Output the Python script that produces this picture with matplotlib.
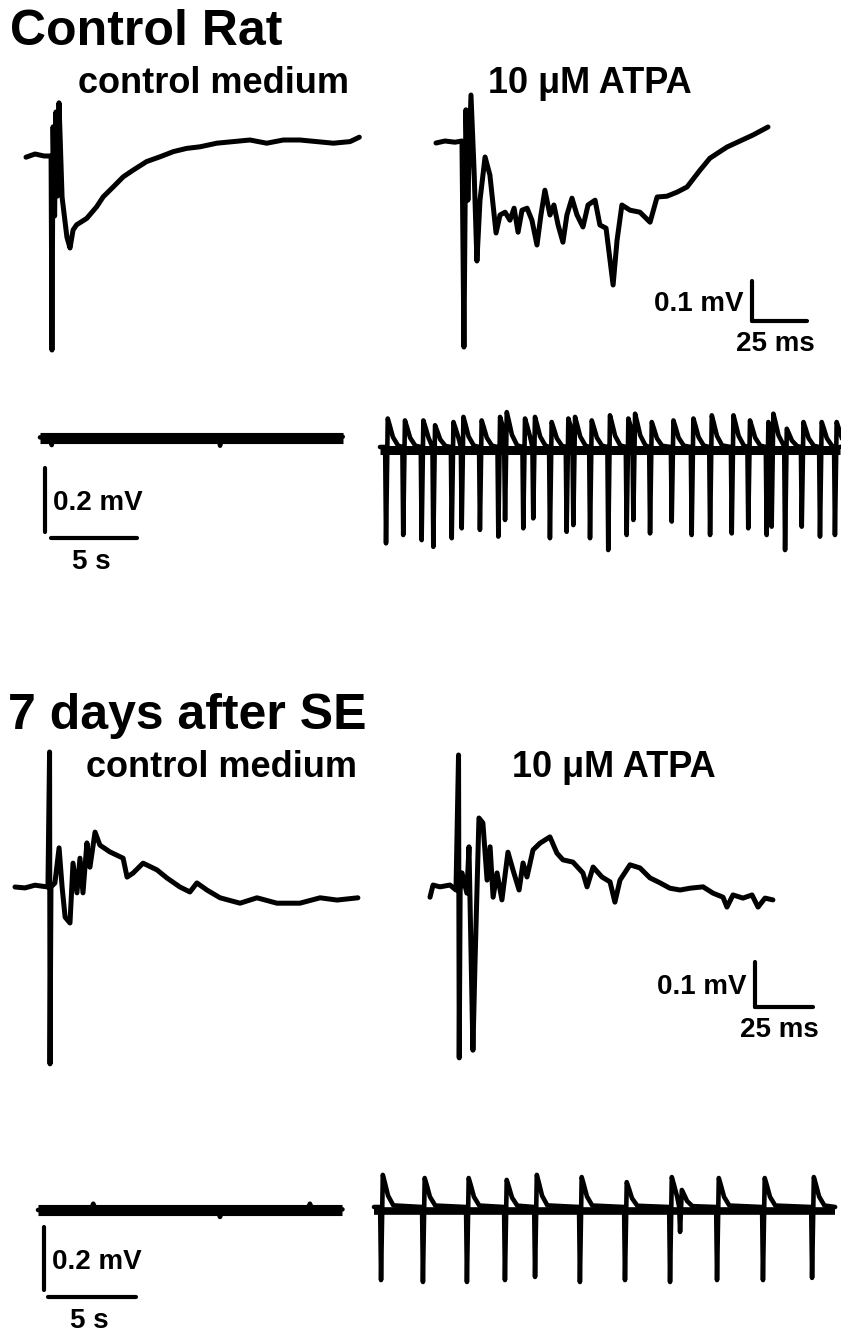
import numpy as np
import matplotlib.pyplot as plt

W, H = 841, 1332

# --- evoked field potentials, time in ms, voltage in mV ---
ctl_med_t = [0, 4.1, 8.2, 11.4, 11.8, 12.3, 13.0, 13.6, 14.3, 15.0, 16.4, 18.6, 20.0, 21.4,
             23.0, 27.6, 32.1, 35.1, 39.7, 44.2, 48.8, 54.8, 60.9, 67.0, 73.0, 79.1, 86.7,
             94.2, 101.8, 109.4, 117.0, 124.5, 132.1, 139.7, 147.3, 151.5]
ctl_med_v = [-0.003, 0.005, 0, 0, -0.485, 0.073, -0.15, 0.11, -0.1, 0.133, -0.103, -0.203,
             -0.23, -0.185, -0.172, -0.156, -0.127, -0.102, -0.077, -0.052, -0.035, -0.014,
             -0.002, 0.011, 0.019, 0.023, 0.032, 0.036, 0.04, 0.032, 0.04, 0.04, 0.036,
             0.032, 0.036, 0.047]

ctl_atpa_t = [0, 4.1, 8.6, 11.8, 12.7, 13.6, 14.5, 15.9, 17.3, 18.6, 20.0, 22.3, 24.5, 27.3,
              29.1, 31.4, 33.6, 35.5, 37.3, 39.1, 41.4, 43.6, 45.9, 47.7, 49.5, 51.8, 53.6,
              55.5, 57.7, 59.5, 61.8, 64.1, 66.8, 69.1, 72.3, 74.5, 77.3, 80.5, 82.3, 84.5,
              88.2, 92.7, 97.3, 100.5, 105.0, 109.5, 114.1, 120.0, 124.5, 132.3, 138.2,
              144.1, 150.9]
ctl_atpa_v = [-0.005, 0, -0.003, 0, -0.515, 0.078, -0.148, 0.115, -0.073, -0.30, -0.148,
              -0.04, -0.085, -0.23, -0.185, -0.178, -0.198, -0.168, -0.228, -0.173, -0.168,
              -0.198, -0.26, -0.185, -0.123, -0.185, -0.16, -0.21, -0.253, -0.185, -0.143,
              -0.185, -0.215, -0.16, -0.148, -0.21, -0.218, -0.36, -0.248, -0.16, -0.173,
              -0.178, -0.203, -0.14, -0.138, -0.128, -0.115, -0.073, -0.043, -0.015, 0,
              0.015, 0.035]

se_med_t = [0, 4.3, 8.6, 14.2, 14.9, 15.1, 15.5, 17.2, 19.0, 20.3, 21.6, 23.7, 25.0, 26.7,
            28.0, 29.3, 31.0, 32.3, 34.5, 36.6, 40.9, 46.6, 48.3, 50.9, 55.2, 61.2, 65.5,
            71.1, 75.4, 78.4, 82.8, 88.4, 97.0, 104.3, 112.9, 122.8, 131.5, 138.8, 147.8]
se_med_v = [0, -0.002, 0.004, 0, 0.30, -0.393, 0.0, 0.009, 0.087, 0, -0.067, -0.08, 0.053,
            -0.013, 0.064, -0.013, 0.098, 0.044, 0.122, 0.093, 0.078, 0.064, 0.022, 0.031,
            0.053, 0.038, 0.02, 0, -0.011, 0.009, -0.007, -0.024, -0.036, -0.024, -0.036,
            -0.036, -0.024, -0.029, -0.024]

se_atpa_t = [0, 1.3, 4.3, 8.6, 11.2, 12.3, 12.6, 13.0, 13.8, 15.9, 16.8, 18.5, 19.4, 21.1,
             22.8, 24.6, 25.9, 27.2, 28.9, 31.0, 33.6, 35.8, 38.4, 40.1, 41.8, 44.4, 47.4,
             51.7, 54.7, 57.3, 61.6, 65.9, 67.7, 70.3, 74.1, 77.6, 79.7, 81.9, 86.2, 90.5,
             94.8, 99.1, 103.4, 107.8, 112.1, 117.7, 122.0, 126.3, 128.0, 130.6, 134.9,
             138.8, 141.4, 144.4, 147.8]
se_atpa_v = [-0.016, 0.011, 0.007, 0.011, 0, 0.30, -0.373, 0.0, 0.038, -0.007, 0.096, -0.356,
             -0.162, 0.16, 0.149, 0.022, 0.096, -0.016, 0.038, -0.022, 0.084, 0.044, 0, 0.06,
             0.029, 0.089, 0.104, 0.118, 0.082, 0.067, 0.062, 0.038, 0.007, 0.051, 0.029,
             0.018, -0.027, 0.022, 0.056, 0.049, 0.027, 0.016, 0.004, 0, 0.004, 0.007, -0.007,
             -0.016, -0.038, -0.011, -0.018, -0.011, -0.038, -0.018, -0.022]

# --- spontaneous activity, time in s, voltage in mV ---
ctl_spont_med_t = [0, 0.6, 0.68, 0.76, 4.2, 8.0, 10.4, 10.47, 10.55, 11.2, 14.8, 17.6]
ctl_spont_med_v = [0.002, 0, -0.022, 0, -0.002, 0.001, 0.0, -0.024, 0.004, 0.006, 0.0, 0.004]

ctl_burst_t = [0.35, 1.35, 2.42, 3.10, 4.17, 4.75, 5.81, 6.88, 7.27, 8.33, 8.91, 9.88, 10.85,
               11.24, 12.21, 13.27, 14.34, 14.73, 15.70, 16.96, 18.12, 19.19, 20.45, 21.41,
               22.48, 22.77, 23.55, 24.52, 25.58, 26.45]
ctl_burst_lo = [-0.301, -0.275, -0.291, -0.312, -0.285, -0.254, -0.259, -0.280, -0.228, -0.254,
                -0.223, -0.285, -0.265, -0.244, -0.285, -0.322, -0.275, -0.228, -0.270, -0.233,
                -0.275, -0.275, -0.270, -0.254, -0.275, -0.249, -0.322, -0.249, -0.280, -0.275]
ctl_burst_hi = [0.089, 0.083, 0.083, 0.068, 0.078, 0.094, 0.083, 0.094, 0.109, 0.089, 0.094,
                0.078, 0.089, 0.094, 0.083, 0.099, 0.089, 0.104, 0.078, 0.083, 0.089, 0.099,
                0.099, 0.083, 0.078, 0.104, 0.057, 0.078, 0.078, 0.078]
ctl_burst_end = 26.74

se_spont_med_t = [0, 3.0, 3.14, 3.3, 7.5, 10.2, 10.34, 10.5, 15.3, 15.45, 15.6, 17.3]
se_spont_med_v = [0, 0.0, 0.02, 0.0, -0.002, 0.0, -0.022, 0.0, 0.0, 0.02, 0.0, 0.002]

se_burst_t = [0.40, 2.78, 5.28, 7.44, 9.15, 11.70, 14.26, 16.82, 17.39, 19.49, 22.10, 24.89]
se_burst_lo = [-0.232, -0.238, -0.238, -0.232, -0.222, -0.238, -0.232, -0.238, -0.079, -0.232,
               -0.232, -0.225]
se_burst_hi = [0.102, 0.092, 0.092, 0.086, 0.102, 0.095, 0.079, 0.095, 0.054, 0.092, 0.092, 0.095]
se_burst_end = 26.2

FONT = 'Liberation Sans'
LW = 3.0
TRACE_LW = 3.6

fig = plt.figure(figsize=(W / 100, H / 100), dpi=100)


def trace_axes(x0, y0, xs, ys, tlim, vlim):
    # x0, y0: pixel of t=0, v=0; xs, ys: pixels per unit
    left = x0 + tlim[0] * xs
    width = (tlim[1] - tlim[0]) * xs
    top = y0 - vlim[1] * ys
    height = (vlim[1] - vlim[0]) * ys
    ax = fig.add_axes([left / W, 1 - (top + height) / H, width / W, height / H])
    ax.set_xlim(tlim)
    ax.set_ylim(vlim)
    ax.axis('off')
    return ax


def draw(ax, t, v, lw=TRACE_LW):
    ax.plot(t, v, color='black', lw=lw, solid_joinstyle='round', solid_capstyle='round',
            clip_on=False)


def noise_band(ax, t, level, lw):
    # recording noise drawn as a thick band under the trace
    ax.plot([t[0], t[-1]], [level, level], color='black', lw=lw, solid_capstyle='butt')


def burst_trace(times, lows, highs, t_end):
    dt = [-0.05, 0.0, 0.1, 0.22, 0.4, 0.7]
    t_out, v_out = [0.0], [0.0]
    for i, (t0, lo, hi) in enumerate(zip(times, lows, highs)):
        nxt = times[i + 1] if i + 1 < len(times) else t_end + 1
        vals = [0.0, lo, hi, 0.75 * hi, 0.35 * hi, 0.05 * hi]
        for d, val in zip(dt, vals):
            tt = t0 + d
            if tt > t_out[-1] and (tt < nxt - 0.05 or d <= 0):
                t_out.append(tt)
                v_out.append(val)
    t_out.append(t_end)
    v_out.append(0.0)
    return t_out, v_out


def label(ax, s, xy, off, ha, va):
    ax.annotate(s, xy=xy, xytext=off, textcoords='offset points', ha=ha, va=va,
                fontsize=20, fontweight='bold', family=FONT)


def bar(ax, t, v):
    ax.plot(t, v, color='black', lw=LW, clip_on=False, solid_capstyle='round')


def scale_bar(ax, t0, v0, dt, dv, tlabel, vlabel):
    bar(ax, [t0, t0], [v0, v0 + dv])
    bar(ax, [t0, t0 + dt], [v0, v0])
    label(ax, vlabel, (t0, v0 + dv / 2), (-6, 0), 'right', 'center_baseline')
    label(ax, tlabel, (t0 + dt / 2, v0), (-3, -7), 'center', 'top')


def fig_text(x, y, s, size):
    fig.text(x / W, 1 - y / H, s, fontsize=size, fontweight='bold', family=FONT,
             ha='left', va='baseline')


fig_text(10, 45, 'Control Rat', 36)
fig_text(78, 93, 'control medium', 26)
fig_text(488, 93, '10 \u03bcM ATPA', 26)
fig_text(8, 729, '7 days after SE', 36)
fig_text(86, 777, 'control medium', 26)
fig_text(512, 777, '10 \u03bcM ATPA', 26)

# control rat, evoked
ax = trace_axes(26, 156, 2.2, 400, (-2, 155), (-0.5, 0.16))
draw(ax, ctl_med_t, ctl_med_v)
ax = trace_axes(436, 141, 2.2, 400, (-2, 175), (-0.55, 0.14))
draw(ax, ctl_atpa_t, ctl_atpa_v)
scale_bar(ax, 143.6, -0.45, 25, 0.1, '25 ms', '0.1 mV')

# control rat, spontaneous
ax = trace_axes(40, 438, 17.2, 320, (-0.5, 18), (-0.4, 0.1))
noise_band(ax, ctl_spont_med_t, 0.0, 8)
draw(ax, ctl_spont_med_t, ctl_spont_med_v, lw=3.3)
bar(ax, [0.29, 0.29], [-0.294, -0.094])
bar(ax, [0.64, 5.64], [-0.3125, -0.3125])
label(ax, '0.2 mV', (0.29, -0.194), (6, 0), 'left', 'center_baseline')
label(ax, '5 s', (3.14, -0.3125), (-2, -8), 'center', 'top')

ax = trace_axes(380, 447, 17.2, 320, (-0.2, 27), (-0.35, 0.13))
bt, bv = burst_trace(ctl_burst_t, ctl_burst_lo, ctl_burst_hi, ctl_burst_end)
noise_band(ax, bt, -0.008, 6.5)
draw(ax, bt, bv, lw=3.3)

# 7 days after SE, evoked
ax = trace_axes(15, 887, 2.32, 450, (-2, 152), (-0.42, 0.32))
draw(ax, se_med_t, se_med_v)
ax = trace_axes(430, 890, 2.32, 450, (-2, 175), (-0.4, 0.32))
draw(ax, se_atpa_t, se_atpa_v)
scale_bar(ax, 140.1, -0.26, 25, 0.1, '25 ms', '0.1 mV')

# 7 days after SE, spontaneous
ax = trace_axes(38, 1210, 17.6, 315, (-0.5, 18), (-0.4, 0.1))
noise_band(ax, se_spont_med_t, 0.0, 8)
draw(ax, se_spont_med_t, se_spont_med_v, lw=3.3)
bar(ax, [0.34, 0.34], [-0.254, -0.054])
bar(ax, [0.57, 5.57], [-0.276, -0.276])
label(ax, '0.2 mV', (0.34, -0.154), (6, 0), 'left', 'center_baseline')
label(ax, '5 s', (3.07, -0.276), (-2, -8), 'center', 'top')

ax = trace_axes(374, 1207, 17.6, 315, (-0.2, 26.5), (-0.3, 0.12))
bt, bv = burst_trace(se_burst_t, se_burst_lo, se_burst_hi, se_burst_end)
noise_band(ax, bt, -0.012, 5.5)
draw(ax, bt, bv, lw=3.3)

fig.savefig('out.png', dpi=100)
